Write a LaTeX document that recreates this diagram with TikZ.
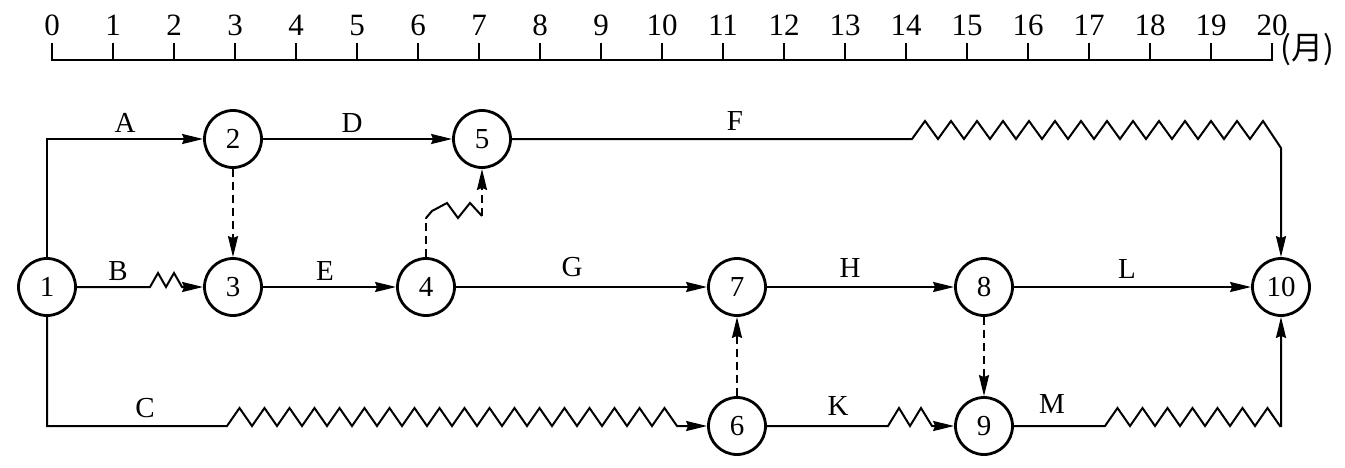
\documentclass[tikz,border=0pt]{standalone}
\usepackage{fontspec}
\setmainfont{Liberation Serif}
\newfontfamily\cjk{Noto Sans CJK SC}
\usetikzlibrary{arrows.meta}

\tikzstyle{event}=[circle, draw, line width=2.8pt, minimum size=57pt, inner sep=0pt, font=\fontsize{29}{31}\selectfont]
\tikzstyle{job}=[line width=2pt, -{Stealth[length=21pt,width=10pt,inset=2pt]}]
\tikzstyle{dummy}=[job, dash pattern=on 8pt off 5pt]
\tikzstyle{tag}=[font=\fontsize{29}{31}\selectfont, inner sep=0pt]
\tikzstyle{month}=[anchor=base, font=\fontsize{31}{33}\selectfont, inner sep=0pt]

\begin{document}
\begin{tikzpicture}[x=1pt, y=-1pt]
    \useasboundingbox (0,0) rectangle (1345,467);

    % time scale
    \draw[line width=1.8pt] (52,43) -- (52,60) -- (1272,60) -- (1272,43);
    \foreach \m in {1,...,19}
        \draw[line width=1.8pt] ({52+61*\m},60) -- ++(0,-17);
    \foreach \m in {0,...,20}
        \node[month] (m\m) at ({52+61*\m},35) {\m};
    \node[anchor=west, inner sep=0pt, font=\fontsize{32}{34}\selectfont] (unit) at (1280,50) {\cjk (月)};

    % events
    \node[event] (n1) at (47,287) {1};
    \node[event] (n2) at (233,139) {2};
    \node[event] (n3) at (233,287) {3};
    \node[event] (n4) at (426,287) {4};
    \node[event] (n5) at (482,139) {5};
    \node[event] (n6) at (737,426) {6};
    \node[event] (n7) at (737,287) {7};
    \node[event] (n8) at (984,287) {8};
    \node[event] (n9) at (984,426) {9};
    \node[event] (n10) at (1281,287) {10};

    % activities
    \draw[job] (n1.north) |- (n2);
    \draw[job] (n2) -- (n5);
    \draw[job] (n5) -- (912,139)
        \foreach \k in {1,...,13} { -- ++(13,-18) -- ++(13,18) }
        -- ++(13,-18) -- (1281,148) -- (n10);
    \draw[job] (n1) -- (150,287)
        \foreach \k in {1,2} { -- ++(8,-14) -- ++(8,14) } -- (n3);
    \draw[job] (n3) -- (n4);
    \draw[job] (n4) -- (n7);
    \draw[job] (n7) -- (n8);
    \draw[job] (n8) -- (n10);
    \draw[job] (n1) |- (227,426)
        \foreach \k in {1,...,18} { -- ++(12.5,-18) -- ++(12.5,18) } -- (n6);
    \draw[job] (n6) -- (888,426)
        \foreach \k in {1,2} { -- ++(11,-18) -- ++(11,18) } -- (n9);
    \draw[job] (n9) -- (1105,426)
        \foreach \k in {1,...,7} { -- ++(12.5,-18) -- ++(12.5,18) } -| (n10);

    % dummies
    \draw[dummy] (n2) -- (n3);
    \draw[dummy] (n6) -- (n7);
    \draw[dummy] (n8) -- (n9);
    \coordinate (z1) at (426,218);
    \coordinate (z2) at (482,216);
    \draw[dummy, -] (n4) -- (z1);
    \draw[line width=2pt] (z1) -- (432,211) -- (447,203) -- (458,218) -- (470,203) -- (z2);
    \draw[dummy] (z2) -- (n5);

    % labels
    \node[tag] (lA) at (125,123) {A};
    \node[tag] (lD) at (352,123) {D};
    \node[tag] (lF) at (735,121) {F};
    \node[tag] (lB) at (118,271) {B};
    \node[tag] (lE) at (325,271) {E};
    \node[tag] (lG) at (572,267) {G};
    \node[tag] (lH) at (850,268) {H};
    \node[tag] (lL) at (1127,269) {L};
    \node[tag] (lC) at (145,408) {C};
    \node[tag] (lK) at (838,406) {K};
    \node[tag] (lM) at (1052,404) {M};
\end{tikzpicture}
\end{document}
